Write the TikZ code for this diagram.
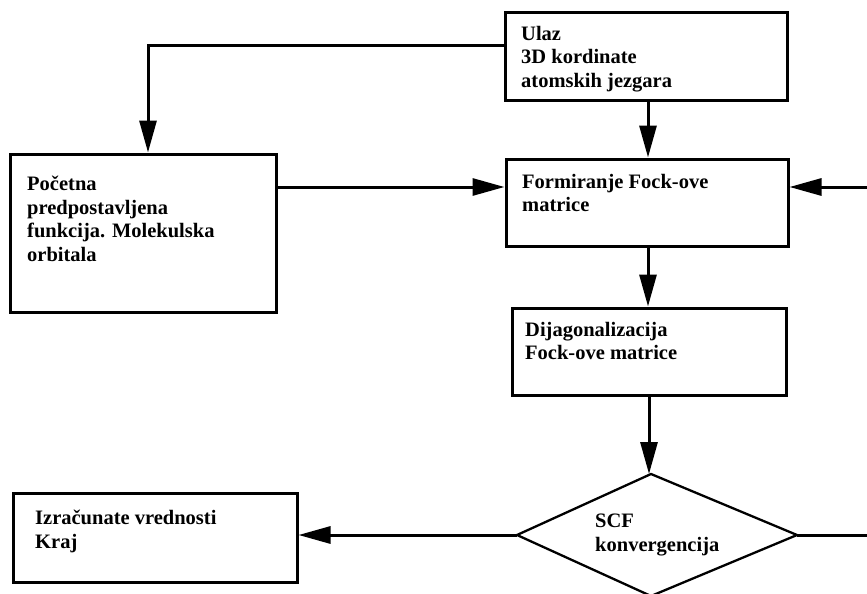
\documentclass[tikz,border=0pt]{standalone}
\usepackage{fontspec}
\setmainfont{Liberation Serif}
\usetikzlibrary{arrows.meta,calc}
\begin{document}
\begin{tikzpicture}[x=1pt,y=-1pt,
  box/.style={draw=black,line width=3pt,rectangle,inner sep=0pt},
  dia/.style={draw=black,line width=2.3pt},
  txt/.style={anchor=north west,inner sep=0pt,align=left,
    font={\fontsize{20.5pt}{23.5pt}\selectfont\bfseries}},
  arr/.style={line width=3pt,-{Triangle[length=32pt,width=17pt]}},
  ln/.style={line width=3pt}]
\useasboundingbox[fill=white] (0,0) rectangle (867,594);
% boxes
\node[box,minimum width=282pt,minimum height=87pt] (ulaz) at (646,56.5) {};
\node[box,minimum width=266pt,minimum height=158pt] (poc) at (143,233) {};
\node[box,minimum width=282pt,minimum height=87pt] (form) at (647,202.5) {};
\node[box,minimum width=274pt,minimum height=87pt] (dij) at (649,351.5) {};
\node[box,minimum width=284pt,minimum height=89pt] (izr) at (155,537.5) {};
% diamond
\coordinate (scfT0) at (651,474);
\coordinate (scfL) at (517,535);
\coordinate (scfR) at (797,535);
\coordinate (scfB) at (651,596);
\draw[dia] (scfT0) -- (scfR) -- (scfB) -- (scfL) -- cycle;
% texts
\node[txt] (ulazT) at (521,26) {Ulaz\\3D kordinate\\atomskih jezgara};
\node[txt] (pocT) at (27,176) {Početna\\predpostavljena\\funkcija. Molekulska\\orbitala};
\node[txt] (formT) at (522,174) {Formiranje Fock-ove\\matrice};
\node[txt] (dijT) at (525,322) {Dijagonalizacija\\Fock-ove matrice};
\node[txt] (scfT) at (595,514) {SCF\\konvergencija};
\node[txt] (izrT) at (35,510) {Izračunate vrednosti\\Kraj};
% connectors
\coordinate (uL) at (ulaz.west |- 0,46);
\coordinate (pTop) at (148,0);
\draw[arr] (uL) -| (pTop |- poc.north);
\draw[arr] (ulaz.south -| 648,0) -- (form.north -| 648,0);
\draw[arr] (poc.east |- 0,187) -- (form.west |- 0,187);
\coordinate (rt) at (867,187);
\draw[arr] (rt) -- (form.east |- rt);
\draw[arr] (form.south -| 648,0) -- (dij.north -| 648,0);
\draw[arr] (dij.south -| 649,0) -- (scfT0 -| 649,0);
\coordinate (rb) at (867,535);
\draw[ln] (scfR) -- (rb);
\draw[arr] (scfL) -- (izr.east |- scfL);
\end{tikzpicture}
\end{document}
